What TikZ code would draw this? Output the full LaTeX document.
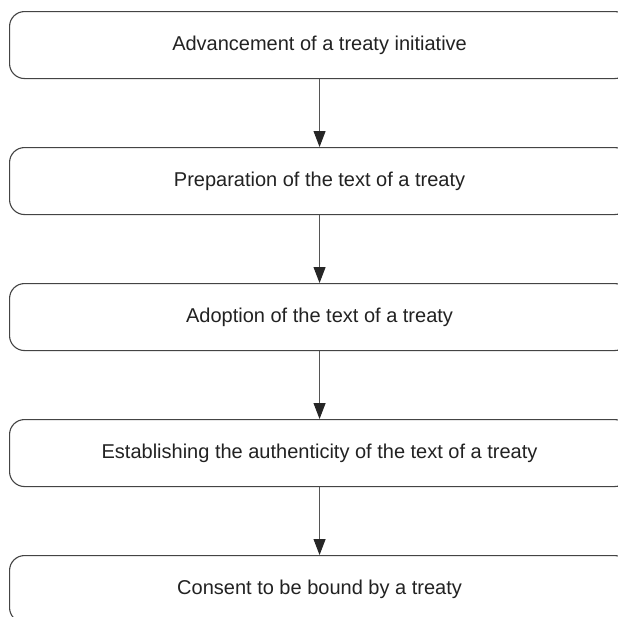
\documentclass[tikz,border=0pt]{standalone}
\usepackage{fontspec}
\setmainfont{Liberation Sans}
\usetikzlibrary{arrows.meta}
\definecolor{boxline}{HTML}{444444}
\definecolor{arrline}{HTML}{555555}
\definecolor{txt}{HTML}{222222}
\tikzset{
  stepbox/.style={draw=boxline, line width=1.1pt, rounded corners=15pt,
    minimum width=620pt, minimum height=67pt, inner sep=0pt,
    font=\fontsize{20pt}{24pt}\selectfont, text=txt, anchor=north west},
  flowarrow/.style={draw=arrline, line width=1pt,
    -{Triangle[length=16pt,width=12pt,fill=black!85,color=black!85]}}
}
\begin{document}
\begin{tikzpicture}[x=1pt,y=-1pt]
\useasboundingbox (0,0) rectangle (618,616);
\clip (0,0) rectangle (618,616);
\fill[white] (0,0) rectangle (618,616);
\node[stepbox] (b1) at (9,11) {Advancement of a treaty initiative};
\node[stepbox] (b2) at (9,147) {Preparation of the text of a treaty};
\node[stepbox] (b3) at (9,283) {Adoption of the text of a treaty};
\node[stepbox] (b4) at (9,419) {Establishing the authenticity of the text of a treaty};
\node[stepbox] (b5) at (9,555) {Consent to be bound by a treaty};
\draw[flowarrow] (b1.south) -- (b2.north);
\draw[flowarrow] (b2.south) -- (b3.north);
\draw[flowarrow] (b3.south) -- (b4.north);
\draw[flowarrow] (b4.south) -- (b5.north);
\end{tikzpicture}
\end{document}
